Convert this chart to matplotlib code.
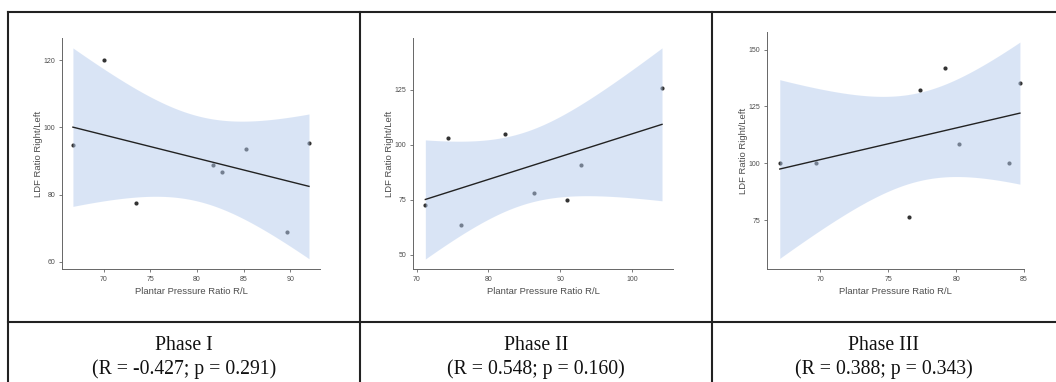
import numpy as np
import matplotlib
matplotlib.use("Agg")
import matplotlib.pyplot as plt
from matplotlib.lines import Line2D

# === data ===
phase_names = ["Phase I", "Phase II", "Phase III"]
r_values = [-0.427, 0.548, 0.388]
p_values = [0.291, 0.160, 0.343]

pp1 = [66.7, 70.0, 73.5, 81.7, 82.7, 85.3, 89.6, 92.0]
ldf1 = [94.8, 120.0, 77.4, 88.8, 86.8, 93.5, 68.9, 95.4]

pp2 = [71.2, 74.4, 76.2, 82.3, 86.4, 91.0, 92.9, 104.2]
ldf2 = [72.6, 103.0, 63.4, 105.1, 77.9, 75.0, 91.0, 126.0]

pp3 = [67.0, 69.7, 76.5, 77.3, 79.2, 80.2, 83.9, 84.7]
ldf3 = [100.0, 100.0, 76.4, 132.3, 141.9, 108.5, 100.0, 135.1]

xticks = [[70, 75, 80, 85, 90], [70, 80, 90, 100], [70, 75, 80, 85]]
yticks = [[60, 80, 100, 120], [50, 75, 100, 125], [75, 100, 125, 150]]
xlims = [(65.53, 93.18), (69.48, 105.73), (66.06, 85.0)]
ylims = [(57.9, 126.6), (43.5, 148.6), (53.5, 157.7)]

# panel boxes in pixels: left, right, top, bottom
boxes = [(62, 320, 38, 269), (413, 673, 38, 269), (767, 1024, 32, 269)]
cell_centers = [184, 536, 884]

W, H = 1056, 382
T_CRIT = 2.447  # t(0.975, df=6)

BAND = (181/255, 203/255, 237/255)
GREY = "#4d4d4d"

fig = plt.figure(figsize=(W / 100, H / 100), dpi=100)


def lm_band(x, y, n_grid=80):
    x = np.asarray(x, float)
    y = np.asarray(y, float)
    b1, b0 = np.polyfit(x, y, 1)
    n = len(x)
    resid = y - (b0 + b1 * x)
    s = np.sqrt(np.sum(resid ** 2) / (n - 2))
    xs = np.linspace(x.min(), x.max(), n_grid)
    fit = b0 + b1 * xs
    se = s * np.sqrt(1 / n + (xs - x.mean()) ** 2 / np.sum((x - x.mean()) ** 2))
    return xs, fit, fit - T_CRIT * se, fit + T_CRIT * se


data = [(pp1, ldf1), (pp2, ldf2), (pp3, ldf3)]

for i, (xv, yv) in enumerate(data):
    l, r, t, b = boxes[i]
    ax = fig.add_axes([l / W, (H - b) / H, (r - l) / W, (b - t) / H])
    ax.scatter(xv, yv, s=9, color="#333333", zorder=2, linewidths=0)
    xs, fit, lo, hi = lm_band(xv, yv)
    ax.fill_between(xs, lo, hi, color=BAND, alpha=0.5, linewidth=0, zorder=3)
    ax.plot(xs, fit, color="#222222", lw=1.0, zorder=4)

    ax.set_xlim(*xlims[i])
    ax.set_ylim(*ylims[i])
    ax.set_xticks(xticks[i])
    ax.set_yticks(yticks[i])
    for side in ["top", "right"]:
        ax.spines[side].set_visible(False)
    for side in ["left", "bottom"]:
        ax.spines[side].set_color("#666666")
        ax.spines[side].set_linewidth(0.7)
    ax.tick_params(length=2, width=0.6, color="#666666", labelsize=5,
                   labelcolor=GREY, pad=3)
    for lab in ax.get_xticklabels() + ax.get_yticklabels():
        lab.set_family("Liberation Sans")

    ax.set_xlabel("Plantar Pressure Ratio R/L", fontsize=6.8, color=GREY,
                  family="Liberation Sans")
    ax.set_ylabel("LDF Ratio Right/Left", fontsize=6.8, color=GREY,
                  family="Liberation Sans")
    ax.xaxis.set_label_coords(0.5, -18 / (b - t))
    ax.yaxis.set_label_coords(-19 / (r - l), 0.5)

    # caption under the panel
    cx = cell_centers[i] / W
    fig.text(cx, 1 - 345.7 / H, phase_names[i], ha="center", va="center",
             fontsize=14.2, family="Liberation Serif", color="#111111")
    fig.text(cx, 1 - 369 / H, f"(R = {r_values[i]:.3f}; p = {p_values[i]:.3f})",
             ha="center", va="center", fontsize=14.2,
             family="Liberation Serif", color="#111111")

# table rules
def hline(y, x0, x1):
    fig.add_artist(Line2D([x0 / W, x1 / W], [1 - y / H, 1 - y / H],
                          color="#222222", lw=1.5))

def vline(x, y0, y1):
    fig.add_artist(Line2D([x / W, x / W], [1 - y0 / H, 1 - y1 / H],
                          color="#222222", lw=1.5))

hline(12, 8, W)
hline(322, 8, W)
vline(8, 12, H)
vline(360, 12, H)
vline(712, 12, H)

fig.savefig("out.png", dpi=100)
